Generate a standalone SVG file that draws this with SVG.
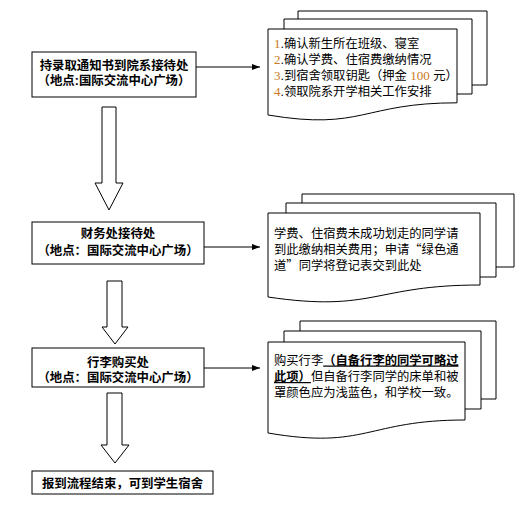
<svg xmlns="http://www.w3.org/2000/svg" width="528" height="517" viewBox="0 0 528 517">
<style>
.box{fill:#fff;stroke:#000;stroke-width:1}
.sheet{fill:#fff;stroke:#000;stroke-width:1}
.hollow{fill:#fff;stroke:#000;stroke-width:1}
.lbl{font-family:"Liberation Sans","Noto Sans CJK SC",sans-serif;font-size:12.4px;font-weight:bold;fill:#000;text-anchor:middle}
.doc{font-family:"Liberation Sans","Noto Sans CJK SC",sans-serif;font-size:12.3px;fill:#000}
.num{font-family:"Liberation Serif",serif;font-size:13px;fill:#c87a22}
.b{font-weight:bold;text-decoration:underline}
.q{font-family:"Noto Sans CJK SC",sans-serif}
.conn{stroke:#000;stroke-width:1;fill:none}
</style>
<defs>
<marker id="ah" viewBox="0 0 8 6" refX="8" refY="3" markerWidth="8" markerHeight="6" markerUnits="userSpaceOnUse" orient="auto">
<path d="M0,0 L8,3 L0,6 Z" fill="#000"/>
</marker>
</defs>

<g id="connectors">
<line class="conn" x1="196" y1="67" x2="260" y2="67" marker-end="url(#ah)"/>
<line class="conn" x1="204" y1="247" x2="260" y2="247" marker-end="url(#ah)"/>
<line class="conn" x1="204" y1="368" x2="260" y2="368" marker-end="url(#ah)"/>
<polygon class="hollow" points="102,107 116,107 116,183 123,183 109,210 95,183 102,183"/>
<polygon class="hollow" points="107,281 122,281 122,327 128,327 115,344 102,327 107,327"/>
<polygon class="hollow" points="107,393 122,393 122,445 129,445 115,463 101,445 107,445"/>
</g>

<g id="node-step1">
<rect class="box" x="32" y="52" width="164" height="45"/>
<text class="lbl" x="114" y="69.5">持录取通知书到院系接待处</text>
<text class="lbl" x="114" y="84.5">（地点:国际交流中心广场）</text>
</g>

<g id="node-doc1">
<path class="sheet" d="M298,19 V11 H487 V85 H472"/>
<path class="sheet" d="M284,29 V19 H472 V94 H457"/>
<path class="sheet" d="M268,29 H457 V102.8 C362.5,102.8 362.5,130.9 268,115 Z"/>
<text class="doc" x="274" y="47.5"><tspan class="num">1</tspan>.确认新生所在班级、寝室</text>
<text class="doc" x="274" y="63.5"><tspan class="num">2</tspan>.确认学费、住宿费缴纳情况</text>
<text class="doc" x="274" y="79.5"><tspan class="num">3</tspan>.到宿舍领取钥匙（押金 <tspan class="num">100</tspan> 元）</text>
<text class="doc" x="274" y="95.5"><tspan class="num">4</tspan>.领取院系开学相关工作安排</text>
</g>

<g id="node-step2">
<rect class="box" x="32" y="222" width="172" height="42"/>
<text class="lbl" x="118" y="237.5">财务处接待处</text>
<text class="lbl" x="118" y="254.5">（地点：国际交流中心广场）</text>
</g>

<g id="node-doc2">
<path class="sheet" d="M302,203 V194 H514 V267 H496"/>
<path class="sheet" d="M286,213 V203 H496 V277 H480"/>
<path class="sheet" d="M268,213 H480 V285 C374,285 374,312.7 268,297 Z"/>
<text class="doc" x="274" y="237.5">学费、住宿费未成功划走的同学请</text>
<text class="doc" x="274" y="254">到此缴纳相关费用；申请<tspan class="q">“</tspan>绿色通</text>
<text class="doc" x="274" y="270">道<tspan class="q">”</tspan>同学将登记表交到此处</text>
</g>

<g id="node-step3">
<rect class="box" x="32" y="348" width="172" height="39"/>
<text class="lbl" x="118" y="366.5">行李购买处</text>
<text class="lbl" x="118" y="381.5">（地点：国际交流中心广场）</text>
</g>

<g id="node-doc3">
<path class="sheet" d="M300,331 V321 H496 V399 H481"/>
<path class="sheet" d="M284,342 V331 H481 V409 H465"/>
<path class="sheet" d="M268,342 H465 V420 C366.5,420 366.5,449.9 268,433 Z"/>
<text class="doc" x="274" y="364.5">购买行李<tspan class="b">（自备行李的同学可略过</tspan></text>
<text class="doc" x="274" y="381"><tspan class="b">此项）</tspan>但自备行李同学的床单和被</text>
<text class="doc" x="274" y="397">罩颜色应为浅蓝色，和学校一致。</text>
</g>

<g id="node-end">
<rect class="box" x="32" y="471" width="181" height="23"/>
<text class="lbl" x="122.5" y="487.5">报到流程结束，可到学生宿舍</text>
</g>
</svg>
